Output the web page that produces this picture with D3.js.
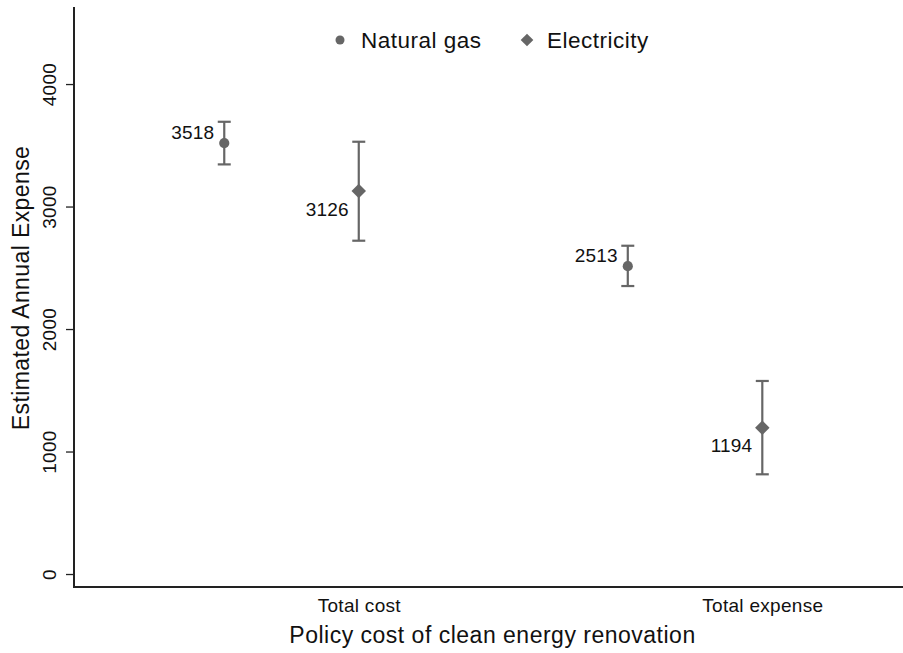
<!DOCTYPE html>
<html>
<head>
<meta charset="utf-8">
<script src="https://cdn.jsdelivr.net/npm/d3@7"></script>
<style>
  html, body { margin: 0; padding: 0; background: #fff; }
  svg { display: block; font-family: "Liberation Sans", Arial, sans-serif; }
</style>
</head>
<body>
<svg id="chart" width="903" height="653"></svg>
<script>
// Categories and series
const categories = ["Total cost", "Total expense"];
const seriesNames = ["Natural gas", "Electricity"];
const estimates = {
  "Natural gas": [3518, 2513],
  "Electricity": [3126, 1194]
};
const lowerCI = {
  "Natural gas": [3344, 2351],
  "Electricity": [2721, 814]
};
const upperCI = {
  "Natural gas": [3692, 2680],
  "Electricity": [3529, 1576]
};
const yTicks = [0, 1000, 2000, 3000, 4000];

// Position of each series within a category on the continuous x axis
const slot = { "Natural gas": 0, "Electricity": 1 };
const catBase = [1, 4];

const plotLeft = 74, plotRight = 903, plotTop = 7, plotBottom = 587;

const x = d3.scaleLinear().domain([-0.117, 6.046]).range([plotLeft, plotRight]);
const y = d3.scaleLinear().domain([-106, 4629]).range([plotBottom, plotTop]);

const svg = d3.select("#chart");
const grey = "#666666";
const ink = "#111111";

const points = [];
seriesNames.forEach(s => {
  categories.forEach((c, i) => {
    points.push({
      series: s, cat: c,
      pos: catBase[i] + slot[s],
      v: estimates[s][i], lo: lowerCI[s][i], hi: upperCI[s][i]
    });
  });
});

// Y axis
const yAxis = d3.axisLeft(y).tickValues(yTicks).tickFormat(d3.format("d")).tickSize(8);
const gy = svg.append("g").attr("transform", `translate(${plotLeft},0)`).call(yAxis);
gy.select(".domain").attr("d", `M0,${plotTop}V${plotBottom}`).attr("stroke", "#222").attr("stroke-width", 2);
gy.selectAll(".tick line").attr("stroke", "#222").attr("stroke-width", 1.3);
gy.selectAll(".tick text")
  .attr("font-size", 19).attr("letter-spacing", 0.3).attr("fill", ink)
  .attr("transform", "rotate(-90)")
  .attr("x", 0).attr("y", -18)
  .attr("dy", 0)
  .attr("text-anchor", "middle");

// X axis (labels only, no ticks)
const xAxis = d3.axisBottom(x).tickValues(catBase.map(b => b + 1))
  .tickFormat((d, i) => categories[i]).tickSize(0).tickPadding(12);
const gx = svg.append("g").attr("transform", `translate(0,${plotBottom})`).call(xAxis);
gx.select(".domain").attr("d", `M${plotLeft - 1},0H${plotRight}`).attr("stroke", "#222").attr("stroke-width", 2);
gx.selectAll(".tick text").attr("font-size", 19).attr("letter-spacing", 0.3).attr("fill", ink);

// Axis titles
svg.append("text")
  .attr("x", (plotLeft + plotRight) / 2 + 4).attr("y", 643)
  .attr("text-anchor", "middle").attr("font-size", 23).attr("letter-spacing", 0.5).attr("fill", ink)
  .text("Policy cost of clean energy renovation");
svg.append("text")
  .attr("transform", `translate(29,${(plotTop + plotBottom) / 2 - 9}) rotate(-90)`)
  .attr("text-anchor", "middle").attr("font-size", 23).attr("letter-spacing", 0.4).attr("fill", ink)
  .text("Estimated Annual Expense");

// Confidence intervals
const capHalf = 6.5;
const ci = svg.append("g").attr("stroke", grey).attr("stroke-width", 2.2).attr("fill", "none");
points.forEach(p => {
  const px = x(p.pos);
  ci.append("line").attr("x1", px).attr("x2", px).attr("y1", y(p.hi)).attr("y2", y(p.lo));
  ci.append("line").attr("x1", px - capHalf).attr("x2", px + capHalf).attr("y1", y(p.hi)).attr("y2", y(p.hi));
  ci.append("line").attr("x1", px - capHalf).attr("x2", px + capHalf).attr("y1", y(p.lo)).attr("y2", y(p.lo));
});

// Markers
const circleSym = d3.symbol().type(d3.symbolCircle).size(82);
const diamondSym = d3.symbol().type(d3.symbolSquare).size(105);
points.forEach(p => {
  const px = x(p.pos), py = y(p.v);
  if (p.series === "Natural gas") {
    svg.append("path").attr("d", circleSym()).attr("fill", grey)
      .attr("transform", `translate(${px},${py})`);
  } else {
    svg.append("path").attr("d", diamondSym()).attr("fill", grey)
      .attr("transform", `translate(${px},${py}) rotate(45)`);
  }
});

// Value labels
points.forEach(p => {
  const px = x(p.pos), py = y(p.v);
  const dy = p.series === "Natural gas" ? -11 : 18;
  svg.append("text")
    .attr("x", px - 10).attr("y", py + dy).attr("dy", "0.35em")
    .attr("text-anchor", "end").attr("font-size", 19).attr("letter-spacing", 0.2).attr("fill", ink)
    .text(p.v);
});

// Legend
const legend = svg.append("g");
const items = [
  { name: "Natural gas", sx: 340, tx: 361 },
  { name: "Electricity", sx: 527, tx: 547 }
];
items.forEach(it => {
  const sym = it.name === "Natural gas" ? d3.symbol().type(d3.symbolCircle).size(64)
                                        : d3.symbol().type(d3.symbolSquare).size(80);
  legend.append("path").attr("d", sym()).attr("fill", grey)
    .attr("transform", `translate(${it.sx},40)` + (it.name === "Electricity" ? " rotate(45)" : ""));
  legend.append("text").attr("x", it.tx).attr("y", 40).attr("dy", "0.35em")
    .attr("font-size", 22.5).attr("letter-spacing", 0.5).attr("fill", ink).text(it.name);
});
</script>
</body>
</html>
